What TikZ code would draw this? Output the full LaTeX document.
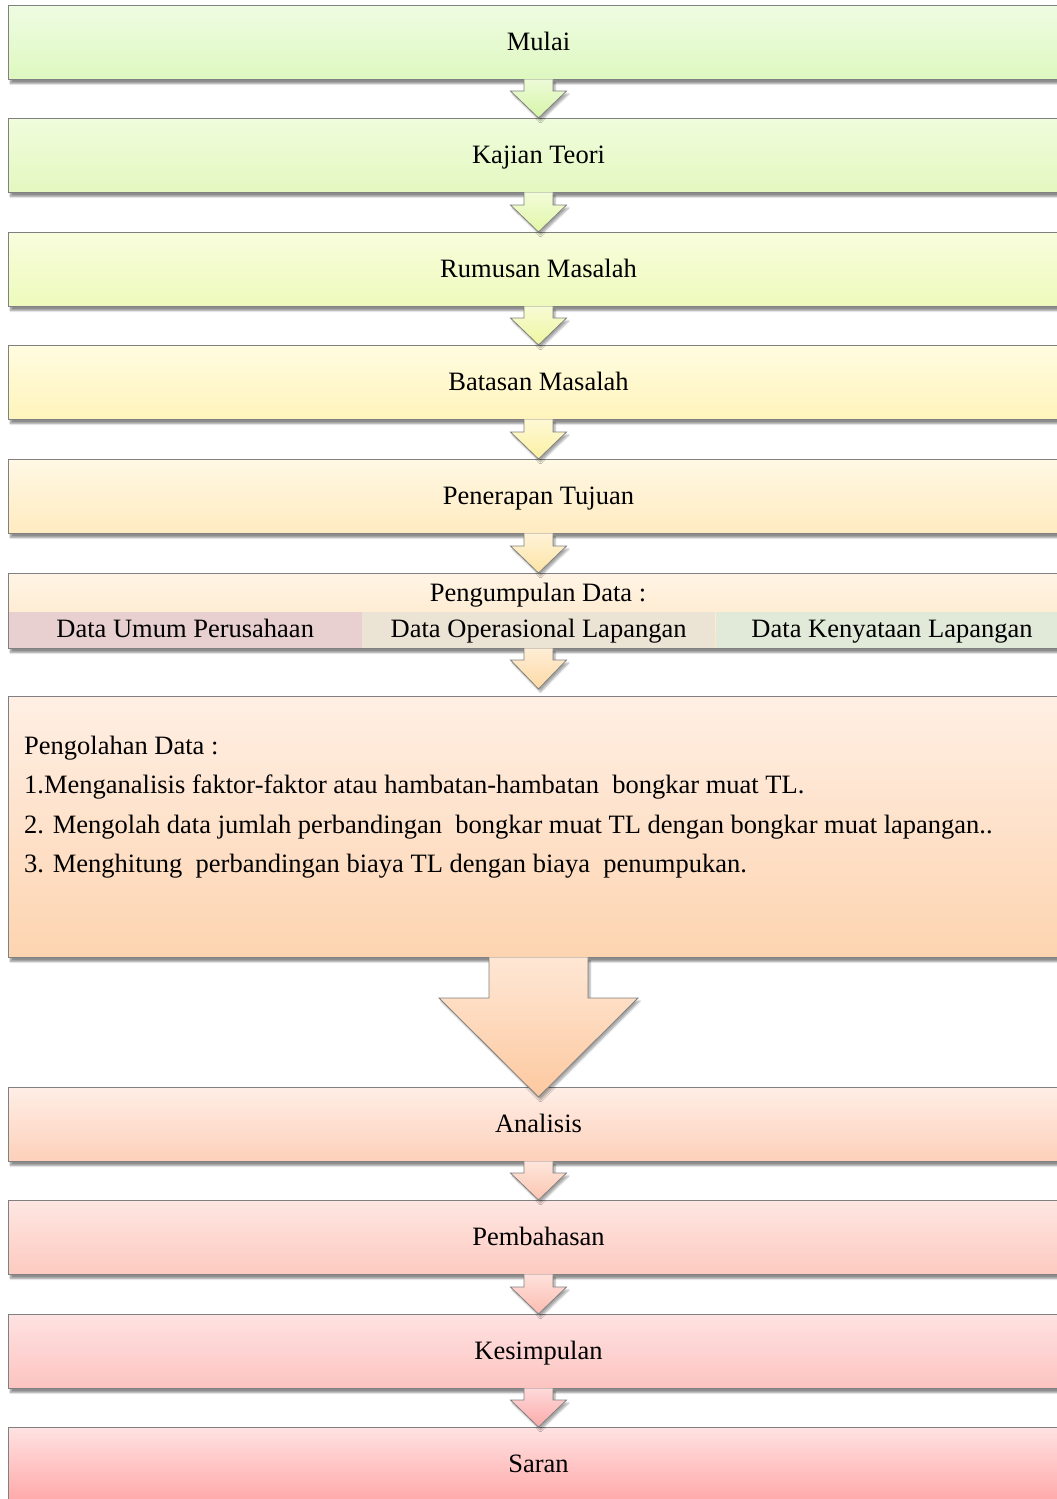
\documentclass[tikz,border=0pt]{standalone}
\usepackage{fontspec}
\setmainfont{Liberation Serif}
\usetikzlibrary{positioning, calc, shadows.blur}

\definecolor{boxline}{HTML}{808080}
\definecolor{mulaitop}{HTML}{EEFCE2}      \definecolor{mulaibot}{HTML}{DEF8C0}
\definecolor{kajiantop}{HTML}{F0FCDC}     \definecolor{kajianbot}{HTML}{E4F8C0}
\definecolor{rumusantop}{HTML}{F8FDDC}    \definecolor{rumusanbot}{HTML}{EEFABC}
\definecolor{batasantop}{HTML}{FFFCE0}    \definecolor{batasanbot}{HTML}{FFF4BC}
\definecolor{penerapantop}{HTML}{FFF8E4}  \definecolor{penerapanbot}{HTML}{FFEBC0}
\definecolor{kumpultop}{HTML}{FFF4E4}     \definecolor{kumpulbot}{HTML}{FFE6C4}
\definecolor{olahtop}{HTML}{FFEFE4}       \definecolor{olahbot}{HTML}{FDD4B0}
\definecolor{analisistop}{HTML}{FEEEE6}   \definecolor{analisisbot}{HTML}{FDD0BA}
\definecolor{bahastop}{HTML}{FEE6E2}      \definecolor{bahasbot}{HTML}{FDCAC0}
\definecolor{simpultop}{HTML}{FEE2E2}     \definecolor{simpulbot}{HTML}{FCC4C0}
\definecolor{sarantop}{HTML}{FFE2E2}      \definecolor{saranbot}{HTML}{FFA8A8}
\definecolor{umumcell}{HTML}{E9D0D0}
\definecolor{operasicell}{HTML}{EBE3D4}
\definecolor{nyatacell}{HTML}{E1E9D8}
\definecolor{arrowa}{HTML}{D6F5A8}
\definecolor{arrowb}{HTML}{E2F7A8}
\definecolor{arrowc}{HTML}{EEF6A0}
\definecolor{arrowd}{HTML}{FCF0A2}
\definecolor{arrowe}{HTML}{FDE4A6}
\definecolor{arrowf}{HTML}{FDD9A4}
\definecolor{arrowg}{HTML}{FDC9A0}
\definecolor{arrowh}{HTML}{FCC6B0}
\definecolor{arrowi}{HTML}{FCBCB0}
\definecolor{arrowj}{HTML}{FCAAAA}

% block arrow: from, to, colour, shaft half, head half, head length, tip shift
\newcommand{\flowarrow}[7]{%
  \path[arrowbox, top color=#3!45!white, bottom color=#3]
    let \p1 = (#1.south), \p2 = ($(#2.north)+(0,#7)$) in
    (\x1-#4pt,\y1+0.6pt) -- (\x1-#4pt,\y2+#6pt) -- (\x1-#5pt,\y2+#6pt) -- (\x1,\y2)
    -- (\x1+#5pt,\y2+#6pt) -- (\x1+#4pt,\y2+#6pt) -- (\x1+#4pt,\y1+0.6pt);
}

\begin{document}
\begin{tikzpicture}[x = 1pt, y = -1pt, font = \fontsize{26.5}{31}\selectfont,
  box/.style = {draw = boxline, line width = 1pt, minimum width = 1060pt, minimum height = 74pt,
    anchor = north west, inner sep = 0pt, text height = 20pt, text depth = 4pt,
    blur shadow={shadow xshift=2pt, shadow yshift=-4pt, shadow blur steps=6, shadow opacity=45}},
  arrowbox/.style = {draw = boxline, line width = 0.8pt,
    blur shadow={shadow xshift=2pt, shadow yshift=-3pt, shadow blur steps=5, shadow opacity=35}},
  cell/.style = {minimum width = 353pt, minimum height = 36pt, inner sep = 0pt, text height = 19pt, text depth = 5pt}]
  \useasboundingbox (0, 0) rectangle (1057, 1499);
  \clip (0, 0) rectangle (1057, 1499);

  \node[box, top color = mulaitop, bottom color = mulaibot] (mulai) at (8, 5) {Mulai};
  \node[box, top color = kajiantop, bottom color = kajianbot] (kajian) at (8, 118) {Kajian Teori};
  \node[box, top color = rumusantop, bottom color = rumusanbot] (rumusan) at (8, 232) {Rumusan Masalah};
  \node[box, top color = batasantop, bottom color = batasanbot] (batasan) at (8, 345) {Batasan Masalah};
  \node[box, top color = penerapantop, bottom color = penerapanbot] (penerapan) at (8, 459) {Penerapan Tujuan};
  \node[box, top color = kumpultop, bottom color = kumpulbot, minimum height = 75pt] (pengumpulan) at (8, 573) {};
  \node[anchor = base] (kumpultitle) at (538, 601) {Pengumpulan Data :};
  \node[cell, fill = umumcell, anchor = south west] (umum) at ($(pengumpulan.south west)+(0.5, -0.5)$) {Data Umum Perusahaan};
  \node[cell, fill = operasicell, right = 0pt of umum] (operasional) {Data Operasional Lapangan};
  \node[cell, fill = nyatacell, right = 0pt of operasional] (kenyataan) {Data Kenyataan Lapangan};
  \node[box, top color = olahtop, bottom color = olahbot, minimum height = 261pt] (pengolahan) at (8, 696) {};
  \node[anchor = north west, align = left, inner sep = 0pt, font = \fontsize{26.5}{39.3}\selectfont] (olahtext) at (24, 736)
    {Pengolahan Data :\\
     1.Menganalisis faktor-faktor atau hambatan-hambatan~ bongkar muat TL.\\
     2. Mengolah data jumlah perbandingan~ bongkar muat TL dengan bongkar muat lapangan..\\
     3. Menghitung~ perbandingan biaya TL dengan biaya~ penumpukan.};
  \node[box, top color = analisistop, bottom color = analisisbot] (analisis) at (8, 1087) {Analisis};
  \node[box, top color = bahastop, bottom color = bahasbot] (pembahasan) at (8, 1200) {Pembahasan};
  \node[box, top color = simpultop, bottom color = simpulbot] (kesimpulan) at (8, 1314) {Kesimpulan};
  \node[box, top color = sarantop, bottom color = saranbot] (saran) at (8, 1427) {Saran};

  \flowarrow{mulai}{kajian}{arrowa}{14.5}{28}{27}{0}
  \flowarrow{kajian}{rumusan}{arrowb}{14.5}{28}{27}{0}
  \flowarrow{rumusan}{batasan}{arrowc}{14.5}{28}{27}{0}
  \flowarrow{batasan}{penerapan}{arrowd}{14.5}{28}{27}{0}
  \flowarrow{penerapan}{pengumpulan}{arrowe}{14.5}{28}{27}{0}
  \flowarrow{pengumpulan}{pengolahan}{arrowf}{14.5}{28}{29}{-7}
  \flowarrow{pengolahan}{analisis}{arrowg}{49.5}{99.5}{99}{10}
  \flowarrow{analisis}{pembahasan}{arrowh}{14.5}{28}{27}{0}
  \flowarrow{pembahasan}{kesimpulan}{arrowi}{14.5}{28}{27}{0}
  \flowarrow{kesimpulan}{saran}{arrowj}{14.5}{28}{27}{0}
\end{tikzpicture}
\end{document}
